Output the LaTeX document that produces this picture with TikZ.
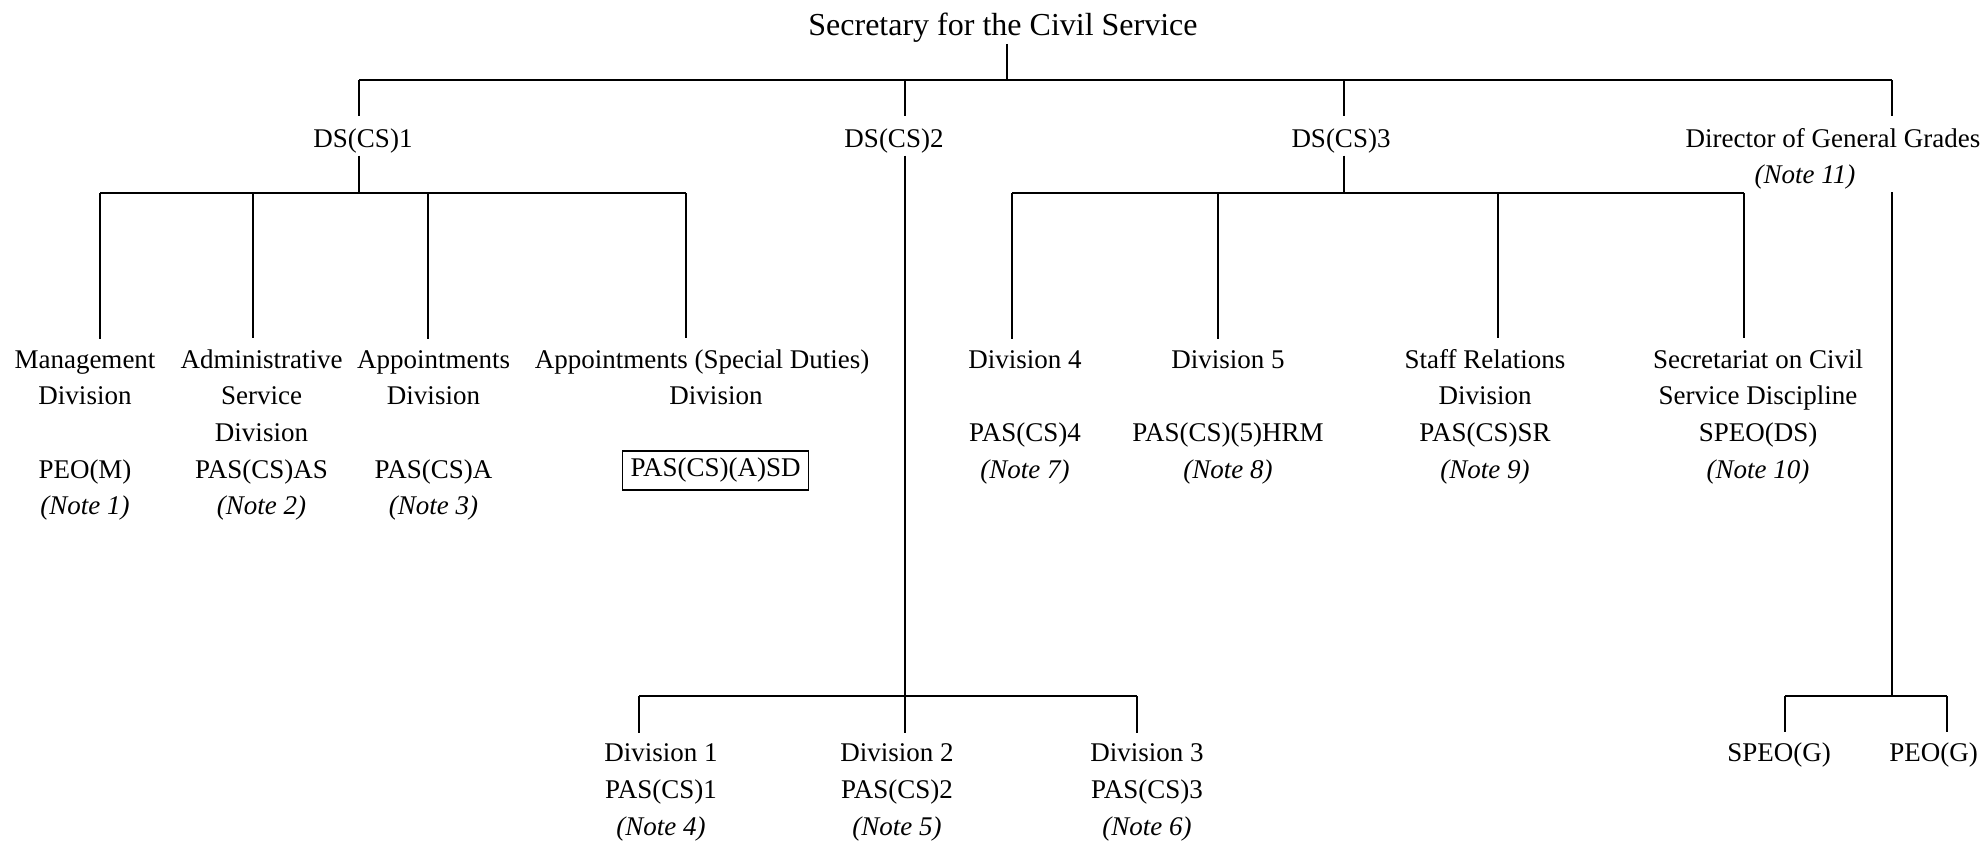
\documentclass[tikz,border=0pt]{standalone}
\usepackage{fontspec}
\setmainfont{Liberation Serif}
\begin{document}
\begin{tikzpicture}[x=0.5pt,y=-0.5pt,line width=0.85pt,
  every node/.style={inner sep=0pt,anchor=base,align=center,
    font=\fontsize{13.5}{18.35}\selectfont},
  titlebox/.style={font=\fontsize{16}{19}\selectfont,inner sep=0.5pt},
  boxed/.style={draw,line width=0.75pt,anchor=center,minimum width=93pt,minimum height=19.5pt},
  toN/.style={shorten >=5pt},
  toN1/.style={shorten >=5.5pt},
  fromS/.style={shorten <=1pt}]
\useasboundingbox (0,0) rectangle (1982,841);
% note: the base anchor of a multi-line node is the baseline of its last line

% title
\node[titlebox] (sec) at (1003,35) {Secretary for the Civil Service};
\coordinate (jt) at (1007,80);
\draw (sec.south -| jt) -- (jt);

% top bar
\coordinate (t1) at (359,80);
\coordinate (t2) at (905,80);
\coordinate (t3) at (1344,80);
\coordinate (t4) at (1892,80);
\draw (t1) -- (t4);

% level 1
\node (ds1) at (363,147) {DS(CS)1};
\node (ds2) at (894,147) {DS(CS)2};
\node (ds3) at (1341,147) {DS(CS)3};
\node (dgg) at (1833,183.7) {Director of General Grades\\\textit{(Note 11)}\hspace*{28pt}};
\draw[toN1] (t1) -- (ds1.north -| t1);
\draw[toN1] (t2) -- (ds2.north -| t2);
\draw[toN1] (t3) -- (ds3.north -| t3);
\draw[toN1] (t4) -- (dgg.north -| t4);

% DS(CS)1 branch
\coordinate (b1) at (359,193);
\coordinate (b1a) at (100,193);
\coordinate (b1b) at (253,193);
\coordinate (b1c) at (428,193);
\coordinate (b1d) at (686,193);
\draw[fromS] (ds1.south -| b1) -- (b1);
\draw (b1a) -- (b1d);
\node (mgmt) at (85,514.8) {Management\\Division\\~\\PEO(M)\\\textit{(Note 1)}};
\node (adm) at (261.5,514.8) {Administrative\\Service\\Division\\PAS(CS)AS\\\textit{(Note 2)}};
\node (appt) at (433.5,514.8) {Appointments\\Division\\~\\PAS(CS)A\\\textit{(Note 3)}};
\node (apsd) at (702,404.7) {Appointments (Special Duties)\\\hspace*{14pt}Division};
\node[boxed] (pasa) at (715.6,470.5) {PAS(CS)(A)SD};
\draw[toN] (b1a) -- (mgmt.north -| b1a);
\draw[toN] (b1b) -- (adm.north -| b1b);
\draw[toN] (b1c) -- (appt.north -| b1c);
\draw[toN] (b1d) -- (apsd.north -| b1d);

% DS(CS)3 branch
\coordinate (b3) at (1344,193);
\coordinate (b3a) at (1012,193);
\coordinate (b3b) at (1218,193);
\coordinate (b3c) at (1498,193);
\coordinate (b3d) at (1744,193);
\draw[fromS] (ds3.south -| b3) -- (b3);
\draw (b3a) -- (b3d);
\node (div4) at (1025,478.1) {Division 4\\~\\PAS(CS)4\\\textit{(Note 7)}};
\node (div5) at (1228,478.1) {Division 5\\~\\PAS(CS)(5)HRM\hspace*{9pt}\\\textit{(Note 8)}};
\node (staff) at (1485,478.1) {Staff Relations\\Division\\PAS(CS)SR\\\textit{(Note 9)}};
\node (secr) at (1758,478.1) {Secretariat on Civil\\Service Discipline\\SPEO(DS)\hspace*{25pt}\\\textit{(Note 10)}};
\draw[toN] (b3a) -- (div4.north -| b3a);
\draw[toN] (b3b) -- (div5.north -| b3b);
\draw[toN] (b3c) -- (staff.north -| b3c);
\draw[toN] (b3d) -- (secr.north -| b3d);

% DS(CS)2 branch
\coordinate (c2) at (905,696);
\coordinate (c2a) at (639,696);
\coordinate (c2c) at (1137,696);
\draw[fromS] (ds2.south -| c2) -- (c2);
\draw (c2a) -- (c2c);
\node (d1) at (661,835.1) {Division 1\\PAS(CS)1\\\textit{(Note 4)}};
\node (d2) at (897,835.1) {Division 2\\PAS(CS)2\\\textit{(Note 5)}};
\node (d3) at (1147,835.1) {Division 3\\PAS(CS)3\\\textit{(Note 6)}};
\draw[toN] (c2a) -- (d1.north -| c2a);
\draw[toN] (c2) -- (d2.north -| c2);
\draw[toN] (c2c) -- (d3.north -| c2c);

% Director branch
\coordinate (c4) at (1892,696);
\coordinate (c4a) at (1785,696);
\coordinate (c4b) at (1947,696);
\draw[fromS] (dgg.south -| c4) -- (c4);
\draw (c4a) -- (c4b);
\node (speog) at (1779,761.7) {SPEO(G)};
\node (peog) at (1933.6,761.7) {PEO(G)};
\draw[toN] (c4a) -- (speog.north -| c4a);
\draw[toN] (c4b) -- (peog.north -| c4b);
\end{tikzpicture}
\end{document}
